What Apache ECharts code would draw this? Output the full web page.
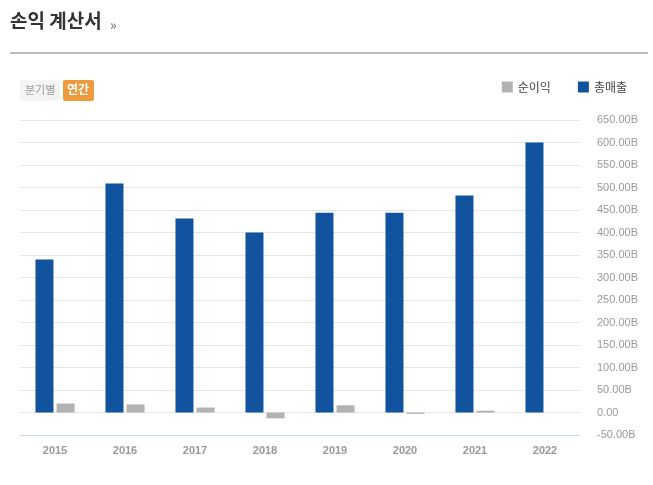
<!DOCTYPE html>
<html><head><meta charset="utf-8">
<script src="https://cdn.jsdelivr.net/npm/echarts@6/dist/echarts.min.js"></script>
<style>html,body{margin:0;padding:0;background:#fff}#c{width:653px;height:485px}</style>
</head><body><div id="c"></div>
<script>
const years = ['2015','2016','2017','2018','2019','2020','2021','2022'];
const revenue = [340, 509, 431, 400, 444, 444, 482, 600];
const netIncome = [20, 18, 11, -13, 16, -3, 4, null];
const FONT = '"Noto Sans CJK KR", "Noto Sans", sans-serif';
const chart = echarts.init(document.getElementById('c'));
chart.setOption({
  animation: false,
  textStyle: {fontFamily: FONT},
  graphic: [
    {type:'text', left:10, top:11, style:{text:'손익 계산서', font:'bold 19px '+FONT, fill:'#333'}},
    {type:'text', left:110, top:18, style:{text:'»', font:'14px '+FONT, fill:'#666'}},
    {type:'rect', shape:{x:10, y:52, width:638, height:2}, style:{fill:'#bbb'}},
    {type:'rect', shape:{x:20, y:80, width:40, height:21, r:2}, style:{fill:'#f4f4f4'}},
    {type:'text', left:25, top:84, style:{text:'분기별', font:'11px '+FONT, fill:'#999'}},
    {type:'rect', shape:{x:63, y:80, width:31, height:21, r:2}, style:{fill:'#ee9a3c'}},
    {type:'text', left:67, top:83, style:{text:'연간', font:'bold 12px '+FONT, fill:'#fff'}}
  ],
  legend: {
    data: ['순이익','총매출'], right: 21, top: 76, itemWidth: 11, itemHeight: 11, itemGap: 27,
    icon: 'rect', textStyle: {fontSize: 12, color: '#444', fontFamily: FONT}
  },
  grid: {left: 20, right: 73, top: 120, bottom: 50},
  xAxis: {
    type: 'category', data: years,
    axisLine: {onZero: false, lineStyle: {color: '#ccd6eb'}},
    axisTick: {show: false},
    axisLabel: {color: '#999', fontSize: 11, fontWeight: 'bold', margin: 10, fontFamily: 'Arial, "Liberation Sans", sans-serif'}
  },
  yAxis: {
    type: 'value', position: 'right', min: -50, max: 650, interval: 50,
    axisLine: {show: false}, axisTick: {show: false},
    splitLine: {lineStyle: {color: '#e6e6e6'}},
    axisLabel: {color: '#999', fontSize: 11, margin: 17, fontFamily: 'Arial, "Liberation Sans", sans-serif',
      formatter: v => v === 0 ? '0.00' : v.toFixed(2) + 'B'}
  },
  series: [
    {name: '총매출', type: 'bar', data: revenue, barWidth: 18, barGap: '17%', itemStyle: {color: '#11539e'}},
    {name: '순이익', type: 'bar', data: netIncome, barWidth: 18, barGap: '17%', itemStyle: {color: '#b2b2b2'}}
  ]
});
</script></body></html>
